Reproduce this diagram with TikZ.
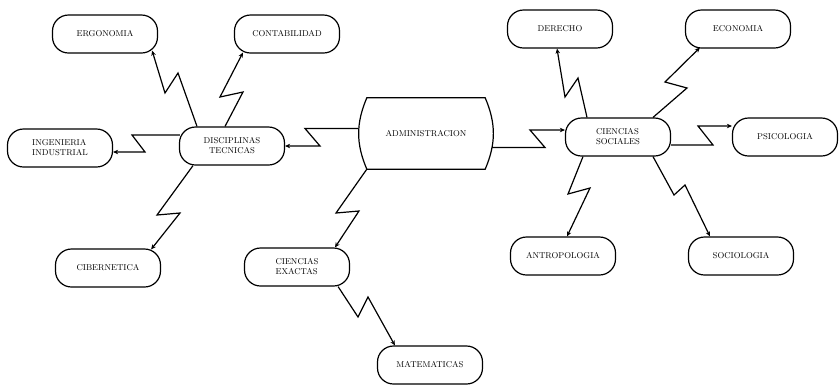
\documentclass[tikz,border=0pt]{standalone}
\usetikzlibrary{arrows.meta}

\tikzset{
  caja/.style={draw, line width=1.2pt, rounded corners=16pt,
    minimum width=105pt, minimum height=38pt, align=center,
    font=\fontsize{8.5}{10}\selectfont},
  rayo/.style={line width=1.2pt, line join=miter,
    -{Stealth[length=5pt,width=4.5pt]}}
}

\begin{document}
\begin{tikzpicture}[x=1pt, y=-1pt]
	\useasboundingbox (0,0) rectangle (840,384);

	% nodo central
	\node[minimum width=118pt, minimum height=71pt,
		font=\fontsize{8.5}{10}\selectfont] (admin) at (426,133.5) {ADMINISTRACION};
	\draw[line width=1.2pt] (admin.north west) -- (admin.north east)
		to[bend left=23] (admin.south east) -- (admin.south west)
		to[bend left=23] cycle;

	% disciplinas tecnicas
	\node[caja] (disc)  at (232,146) {DISCIPLINAS\\TECNICAS};
	\node[caja] (ergo)  at (105,34)  {ERGONOMIA};
	\node[caja] (conta) at (287,34)  {CONTABILIDAD};
	\node[caja, align=left] (ingen) at (60,148) {INGENIERIA\\INDUSTRIAL};
	\node[caja] (ciber) at (108,268) {CIBERNETICA};

	% ciencias exactas
	\node[caja, align=left] (ce) at (297,267) {CIENCIAS\\EXACTAS};
	\node[caja] (mate) at (430,365) {MATEMATICAS};

	% ciencias sociales
	\node[caja, align=left] (cs) at (618,137) {CIENCIAS\\SOCIALES};
	\node[caja] (der)   at (560,29)  {DERECHO};
	\node[caja] (eco)   at (738,29)  {ECONOMIA};
	\node[caja] (psic)  at (785,137) {PSICOLOGIA};
	\node[caja] (antro) at (563,256) {ANTROPOLOGIA};
	\node[caja] (socio) at (741,256) {SOCIOLOGIA};

	% conectores en zigzag
	\draw[rayo] ([xshift=-9pt,yshift=5pt]admin.west) -- (305,128.5) -- (320,146) -- (disc.east);
	\draw[rayo] ([xshift=7pt,yshift=-14pt]admin.east) -- (545,147.5) -- (530,130) -- ([yshift=7pt]cs.west);
	\draw[rayo] (admin.south west) -- (336,213) -- (359,211) -- ([xshift=38pt]ce.north);

	\draw[rayo] ([xshift=-35pt]disc.north) -- (178,73) -- (165,93) -- ([xshift=-6pt,yshift=3pt]ergo.south east);
	\draw[rayo] ([xshift=-7pt]disc.north) -- (243,92) -- (220,97) -- ([xshift=9pt,yshift=1pt]conta.south west);
	\draw[rayo] ([xshift=1pt,yshift=11pt]disc.west) -- (132,135) -- (145,152) -- ([yshift=-4pt]ingen.east);
	\draw[rayo] ([xshift=-39pt]disc.south) -- (157,215) -- (180,213) -- ([xshift=-10pt,yshift=-1pt]ciber.north east);

	\draw[rayo] ([xshift=-12pt]ce.south east) -- (358,317) -- (368,297) -- ([xshift=18pt]mate.north west);

	\draw[rayo] ([xshift=-31pt]cs.north) -- (578,78) -- (565,97) -- ([xshift=-3pt]der.south);
	\draw[rayo] ([xshift=35pt]cs.north) -- (687,88) -- (665,82) -- ([xshift=15pt,yshift=1pt]eco.south west);
	\draw[rayo] ([yshift=-8pt]cs.east) -- (713,145) -- (698,126) -- ([yshift=11pt]psic.west);
	\draw[rayo] ([xshift=-35pt]cs.south) -- (568,194) -- (590,188) -- ([xshift=4pt]antro.north);
	\draw[rayo] ([xshift=35pt]cs.south) -- (674,195) -- (685,185) -- ([xshift=-31pt]socio.north);
\end{tikzpicture}
\end{document}
